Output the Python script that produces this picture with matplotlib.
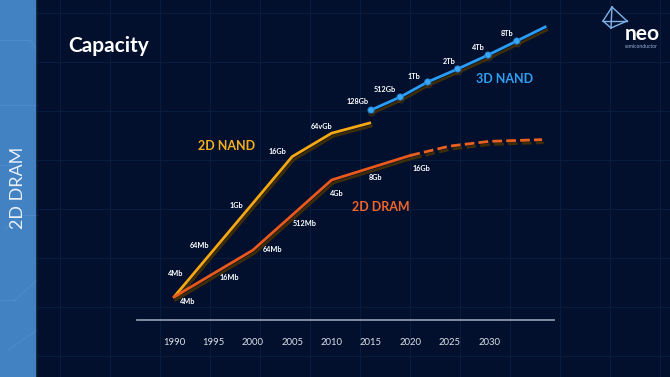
import matplotlib
matplotlib.use("Agg")
import matplotlib.pyplot as plt
import matplotlib.patheffects as pe
from matplotlib.lines import Line2D
from matplotlib.patches import Rectangle

# ---------------- data (y = log2 of capacity in bits) ----------------
years_ticks = [1990, 1995, 2000, 2005, 2010, 2015, 2020, 2025, 2030]

nand2d_years = [1990, 2005, 2010, 2015]
nand2d_vals = [22.0, 34.0, 36.0, 36.9]

dram_years = [1990, 2000, 2010, 2020]
dram_vals = [22.0, 26.0, 32.0, 34.1]
dram_proj_years = [2020, 2025, 2030, 2036.7]
dram_proj_vals = [34.1, 34.9, 35.3, 35.45]

nand3d_years = [2015, 2018.7, 2022.2, 2026.0, 2029.85, 2033.5, 2037.1]
nand3d_vals = [37.98, 39.09, 40.38, 41.49, 42.68, 43.88, 45.08]

nand2d_labels = ["4Mb", "64Mb", "1Gb", "16Gb", "64vGb"]
dram_labels = ["4Mb", "16Mb", "64Mb", "512Mb", "4Gb", "8Gb", "16Gb"]
nand3d_labels = ["128Gb", "512Gb", "1Tb", "2Tb", "4Tb", "8Tb"]

# ---------------- figure ----------------
W, H = 670, 377
BG = "#020f2d"
fig = plt.figure(figsize=(W / 100, H / 100), dpi=100)
fig.patch.set_facecolor(BG)
FONT = "Lato"

# background grid (figure coords)
for gx in range(10, 670, 50):
    fig.add_artist(Line2D([gx / W, gx / W], [0, 1], color="#081d3e", lw=0.8, zorder=0))
for gy in [13, 62, 111, 160, 209, 258, 307, 356]:
    fig.add_artist(Line2D([0, 1], [1 - gy / H, 1 - gy / H], color="#081d3e", lw=0.8, zorder=0))

# left strip
fig.add_artist(Rectangle((0, 0), 37 / W, 1, transform=fig.transFigure,
                         facecolor="#4281c2", edgecolor="none", zorder=1))
for (x0, y0, x1, y1) in [(0, 40, 30, 40), (30, 40, 37, 50), (0, 105, 37, 105),
                         (5, 230, 20, 215), (20, 215, 37, 215), (0, 300, 15, 300),
                         (15, 300, 37, 280), (8, 350, 37, 330), (0, 165, 12, 165)]:
    fig.add_artist(Line2D([x0 / W, x1 / W], [1 - y0 / H, 1 - y1 / H],
                          color="#4f8bca", lw=0.8, zorder=1))
fig.add_artist(Line2D([37 / W, 37 / W], [0, 1], color="#0b1a33", lw=1.2, zorder=1))
fig.text(18 / W, 1 - 188 / H, "2D DRAM", rotation=90, ha="center", va="center",
         color="#e8f0fa", fontsize=13, family=FONT, zorder=2)

# title
fig.text(68 / W, 1 - 46 / H, "Capacity", ha="left", va="center", color="white",
         fontsize=15, fontweight="bold", family=FONT)

# logo
apex, left, front, right = (612, 7), (603, 21), (611, 28), (627, 21)
for a, b in [(apex, left), (apex, front), (apex, right), (left, front), (front, right), (left, right)]:
    fig.add_artist(Line2D([a[0] / W, b[0] / W], [1 - a[1] / H, 1 - b[1] / H],
                          color="#7fb2e8", lw=1.0, zorder=3))
fig.text(642 / W, 1 - 40 / H, "neo", ha="center", va="baseline", color="white",
         fontsize=15, fontweight="bold", family=FONT)
fig.text(641 / W, 1 - 46 / H, "semiconductor", ha="center", va="center",
         color="#9fb6d6", fontsize=3.6, family=FONT)

# ---------------- axes ----------------
PX_PER_YEAR, PX_PER_UNIT = 7.88, 11.7
X_REF, Y_REF = 174, 297


def px(x, y):
    return 1990 + (x - X_REF) / PX_PER_YEAR, 22 + (Y_REF - y) / PX_PER_UNIT


axL, axR, axB, axT = 137, 554, 320, 0
ax = fig.add_axes([axL / W, 1 - axB / H, (axR - axL) / W, (axB - axT) / H])
ax.set_facecolor("none")
x0, y0 = px(axL, axB)
x1, y1 = px(axR, axT)
ax.set_xlim(x0, x1)
ax.set_ylim(y0, y1)
for s in ["top", "right", "left"]:
    ax.spines[s].set_visible(False)
ax.spines["bottom"].set_color("#8d97ab")
ax.spines["bottom"].set_linewidth(1.3)
ax.set_yticks([])
ax.set_xticks(years_ticks)
ax.set_xticklabels([str(y) for y in years_ticks], color="#dde2ea", fontsize=6.8, family=FONT)
ax.tick_params(axis="x", length=0, pad=13)

shadow = [pe.SimpleLineShadow(offset=(1.2, -2.2), shadow_color="#3d2c08", alpha=1.0), pe.Normal()]

ax.plot(nand2d_years, nand2d_vals, color="#f6a812", lw=2.0, solid_capstyle="butt",
        path_effects=shadow, zorder=4)
ax.plot(dram_years, dram_vals, color="#ea581c", lw=2.0, path_effects=shadow, zorder=4)
ax.plot(dram_proj_years, dram_proj_vals, color="#ea601e", lw=2.0, ls=(0, (3.5, 1.5)),
        path_effects=shadow, zorder=4)
ax.plot(nand3d_years, nand3d_vals, color="#2a9df4", lw=2.0, path_effects=shadow, zorder=4)
ax.plot(nand3d_years[:-1], nand3d_vals[:-1], ls="none", marker="o", ms=4.5,
        color="#3aa8f8", mec="#1f7fd0", mew=0.6,
        path_effects=[pe.SimpleLineShadow(offset=(0.5, -2), shadow_color="#4a3510", alpha=1), pe.Normal()],
        zorder=5)

lab_kw = dict(color="white", fontsize=5.2, fontweight="bold", family=FONT,
              ha="center", va="center", zorder=6)
nand2d_lab_px = [(176, 273), (200, 245), (236, 205), (277, 152), (322, 127)]
dram_lab_px = [(188, 301), (229, 278), (273, 250), (305, 224), (337, 193), (376, 178), (421, 168)]
nand3d_lab_px = [(358, 101), (385, 90), (414, 76), (449, 61), (478, 47), (507, 33)]
for labs, pos in [(nand2d_labels, nand2d_lab_px), (dram_labels, dram_lab_px), (nand3d_labels, nand3d_lab_px)]:
    for t, (x, y) in zip(labs, pos):
        ax.text(*px(x, y), t, **lab_kw)

ser_kw = dict(fontsize=9, fontweight="bold", family=FONT, ha="center", va="center", zorder=6)
ax.text(*px(227, 146), "2D NAND", color="#f2b01e", **ser_kw)
ax.text(*px(381, 207), "2D DRAM", color="#f0662a", **ser_kw)
ax.text(*px(505, 79), "3D NAND", color="#2f9ff0", **ser_kw)

fig.savefig("out.png", dpi=100, facecolor=BG)
